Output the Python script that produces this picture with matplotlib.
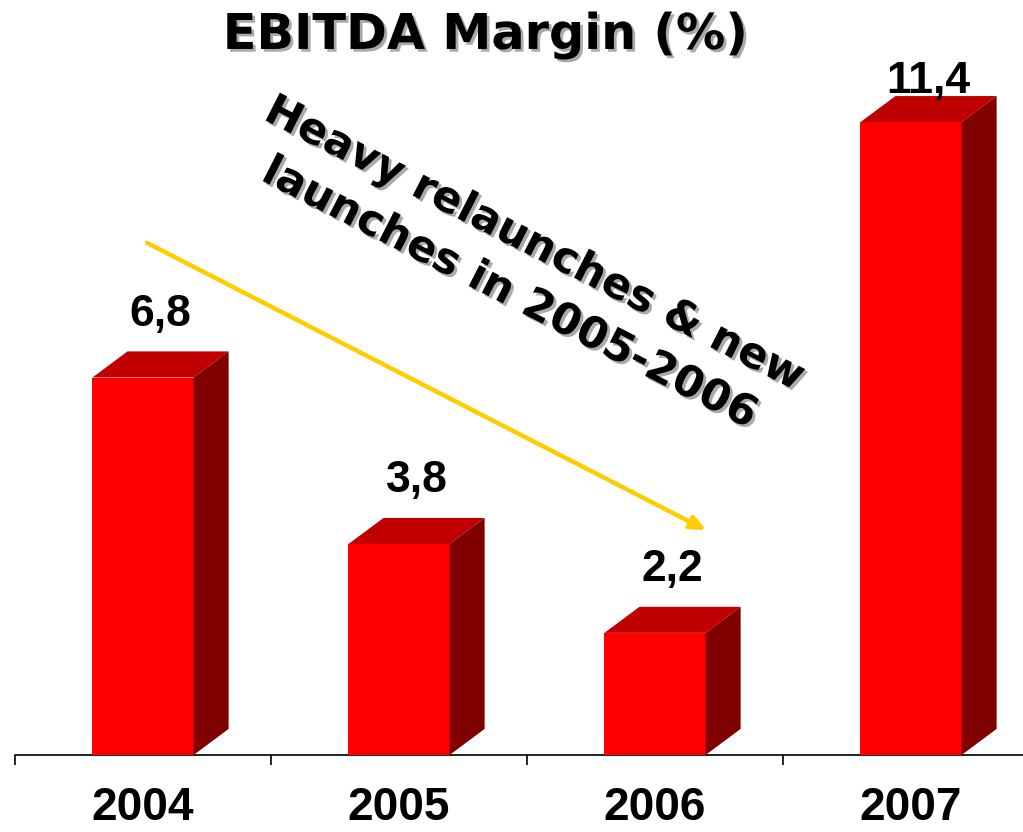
import numpy as np
import matplotlib
matplotlib.use("Agg")
import matplotlib.pyplot as plt
import matplotlib.patheffects as pe
from matplotlib.patches import Polygon

years = ["2004", "2005", "2006", "2007"]
margin = [6.8, 3.8, 2.2, 11.4]
value_labels = ["6,8", "3,8", "2,2", "11,4"]

front_col = "#FF0000"
top_col = "#C00000"
side_col = "#800000"

fig = plt.figure(figsize=(10.23, 8.32), dpi=100)
ax = fig.add_axes([0, 0, 1, 1])
ax.patch.set_alpha(0)

x = np.arange(len(years))
w, dx, dy = 0.395, 0.137, 0.47

ax.bar(x, margin, width=w, color=front_col, zorder=3)
for xi, v in zip(x, margin):
    l, r = xi - w / 2, xi + w / 2
    ax.add_patch(Polygon([(l, v), (r, v), (r + dx, v + dy), (l + dx, v + dy)],
                         closed=True, fc=top_col, ec="none", zorder=3))
    ax.add_patch(Polygon([(r, 0), (r + dx, dy), (r + dx, v + dy), (r, v)],
                         closed=True, fc=side_col, ec="none", zorder=3))

label_y = np.minimum(np.array(margin) + 1.14, 12.13)
for xi, ly, txt in zip(x, label_y, value_labels):
    ax.text(xi + dx / 2, ly, txt, ha="center", va="center", fontsize=32,
            fontweight="bold", family=["Liberation Sans", "DejaVu Sans"], zorder=5)

# axis with ticks between categories
for s in ["top", "right", "left"]:
    ax.spines[s].set_visible(False)
ax.spines["bottom"].set_position(("data", 0))
ax.spines["bottom"].set_bounds(-0.5, 3.5)
ax.spines["bottom"].set_linewidth(1.2)
ax.set_yticks([])
ax.set_xticks(np.arange(-0.5, 4, 1))
ax.set_xticklabels([])
ax.tick_params(axis="x", which="major", direction="out", length=7.5, width=1.2)
ax.set_xticks(x, minor=True)
ax.set_xticklabels(years, minor=True, fontsize=33, fontweight="bold",
                   family=["Liberation Sans", "DejaVu Sans"])
ax.tick_params(axis="x", which="minor", length=0, pad=22)
ax.set_xlim(-0.5586, 3.4375)
ax.set_ylim(-1.387, 13.6)

shadow = [pe.withSimplePatchShadow(offset=(2, -2), shadow_rgbFace="#AAAAAA", alpha=1)]

fig.text(0.474, 0.958, "EBITDA Margin (%)", ha="center", va="center",
         fontsize=35.5, fontweight="bold", family="DejaVu Sans", path_effects=shadow)

# trend arrow and comment
ax.annotate("", xy=(2.2, 4.05), xytext=(0.0156, 9.225),
            arrowprops=dict(arrowstyle="-|>,head_length=0.9,head_width=0.4",
                            color="#FFCC00", lw=3.2, shrinkA=0, shrinkB=0), zorder=4)
ax.text(1.48, 8.76, "Heavy relaunches & new\nlaunches in 2005-2006", ha="center",
        va="center", rotation=-27, rotation_mode="anchor", fontsize=31,
        fontweight="bold", family="DejaVu Sans", linespacing=1.4,
        path_effects=shadow, zorder=6)

fig.savefig("out.png", dpi=100)
